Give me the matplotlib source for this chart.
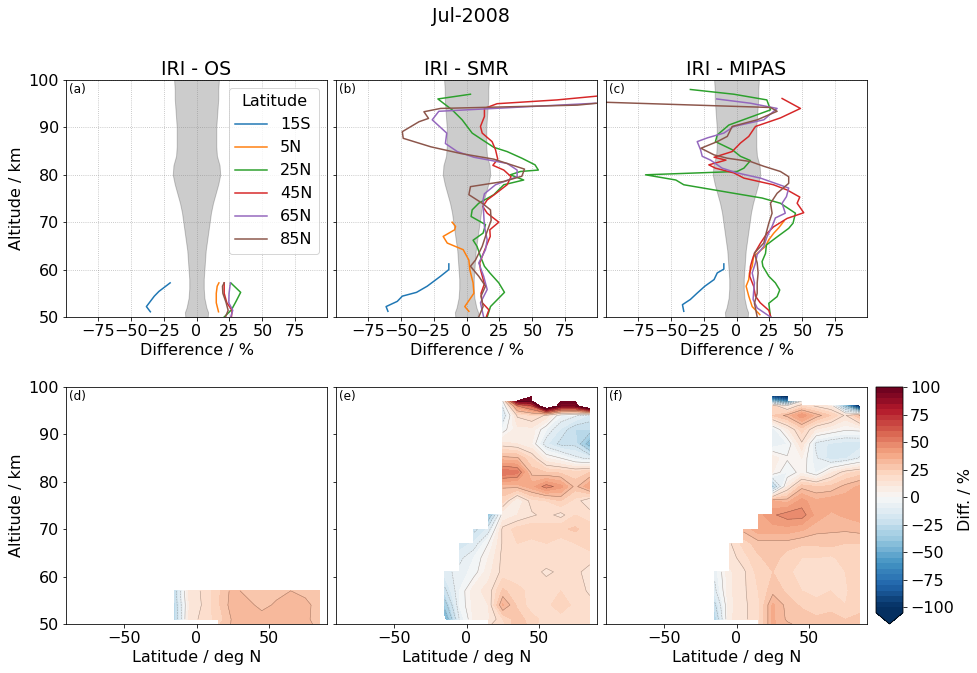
import matplotlib
matplotlib.use("Agg")
import matplotlib.pyplot as plt
import numpy as np

nan = np.nan

latitudes = ["15S", "5N", "25N", "45N", "65N", "85N"]
panel_titles = ["IRI - OS", "IRI - SMR", "IRI - MIPAS"]
panel_tags = ["(a)", "(b)", "(c)", "(d)", "(e)", "(f)"]

# grey band, half width in %
band_alt = [50, 51, 52, 54, 56, 58, 60, 62, 64, 66, 68, 70, 72, 74, 76, 78, 80, 82, 84, 86, 88, 90, 92, 94, 96, 98, 100]
band_half = [8.5, 8.8, 7.5, 6, 5.5, 5.5, 6, 6.5, 7, 8, 9, 10, 11, 12.5, 14.5, 16.5, 18, 17.5, 15.5, 15, 15, 15, 15.5, 16, 16.5, 16.5, 17]

# panel a
a_15s_alt = [51.1, 52.2, 54.4, 55.4, 57.2]
a_15s = [-35, -38, -32, -28.5, -20]
a_5n_alt = [51.1, 53, 55, 56.5, 57.2]
a_5n = [16.7, 15, 15, 15.7, 17]
a_25n_alt = [50, 51.5, 53.3, 55.2, 57.2]
a_25n = [21, 26.5, 30, 33.5, 26]
a_45n_alt = [50, 51.4, 53, 55, 57.2]
a_45n = [26.5, 27, 23, 21, 21]
a_65n_alt = [50, 51.4, 53, 55, 57.2]
a_65n = [26, 27.5, 24.5, 24.7, 25.7]
a_85n_alt = [50, 51.4, 53, 55, 56.5, 57.2]
a_85n = [22, 24, 22.5, 20, 19.7, 21]

# panel b
b_15s_alt = [51.2, 52.2, 53.3, 54.4, 55.2, 56.5, 58.6, 60, 61.2]
b_15s = [-59.6, -61, -52.5, -48.7, -37.9, -29.8, -19.7, -13.4, -13.4]
b_5n_alt = [51.2, 52.2, 55, 57.2, 60, 62, 64.2, 65.6, 67, 68.4, 69.1, 70]
b_5n = [1.8, -1.3, 5.6, 5, 2.5, 1.8, -2.5, -14.6, -17.7, -9, -8.3, -10.9]
b_25n_alt = [50, 52.2, 55.2, 57.2, 59.3, 60.7, 62.8, 64.9, 66.2, 67.7, 69.5, 71.2, 72.6, 74, 75.8, 77.9, 78.9, 80, 80.7,
             81, 82.1, 83.5, 84.9, 85.8, 87.4, 88.8, 91.6, 93.7, 96, 97]
b_25n = [15.7, 18.2, 28.8, 24.5, 17.7, 13.6, 10.6, 8, 5, 12.6, 14.4, 3.5, 4.3, 9.3, 20.7, 28.3, 43.4, 33.3, 40.9,
         54.5, 52, 42, 30.8, 20.7, 11.9, 4.3, -3.3, -10.9, -21.7, 3]
b_45n_alt = [50, 51.5, 53, 55, 57, 60, 61.4, 64.2, 67, 68.4, 70, 71.9, 73.3, 74.7, 76, 77.9, 79.6, 81, 82, 83.3, 85.3,
             87, 88.8, 90.2, 92.3, 94, 95, 95.8, 96.6]
b_45n = [15, 17, 12, 11, 13.6, 10.6, 10, 13.9, 18, 17.7, 24.5, 15.7, 12.4, 15.7, 22, 30.8, 33.8, 28.3, 20, 23.7, 22,
         19.4, 11.9, 10.6, 13.6, 13.6, 23.2, 68.7, 99]
b_65n_alt = [50, 53, 55.8, 58.6, 61.4, 64.2, 66.3, 69.1, 71.9, 74.7, 76, 77.9, 79.6, 81, 82.4, 83.7, 84.9, 86.6, 88.8,
             91.6, 93.4, 95.1]
b_65n = [13, 10.6, 15.7, 13, 9.3, 14.4, 15.7, 13.6, 13, 12.6, 13.6, 22, 38.4, 38.4, 30.8, 5.6, -7, -16, -15,
         -26, -21, 98]
b_85n_alt = [50, 52.2, 54.4, 56.5, 58.6, 60.7, 62, 64.9, 67.7, 70.4, 72.6, 74, 75.8, 77.5, 78.6, 79.7, 81.2, 83.3, 84.5,
             85.9, 87.7, 89.1, 91.2, 91.9, 93.3, 94, 94.7, 95.1]
b_85n = [9.3, 12.6, 11, 14.4, 9.3, 3, 6.8, 11.9, 15.2, 18.7, 18.2, 11.9, 1.8, 3, 28.3, 42, 44, 20.7, -4.5,
         -27, -48, -48.7, -36, -28.8, -32.3, -19.7, 84, 99]

# panel c
c_15s_alt = [51.2, 52.6, 53.7, 55, 56.5, 57.9, 59.3, 60.1, 61.2]
c_15s = [-40, -41, -35, -30, -24, -17, -14.6, -9.6, -9.6]
c_5n_alt = [50.5, 52.2, 54.4, 56.5, 57.9, 59.3, 60.7, 62.8, 64.9, 66.3, 67.7, 68.8, 70.2]
c_5n = [17.7, 11.9, 9.3, 7.3, 9.3, 9.8, 11.9, 13, 22, 24.5, 28.3, 32, 35.9]
c_25n_alt = [50, 52.9, 54.3, 55.7, 57.2, 58.6, 60.7, 61.7, 63.4, 65.2, 66.9, 68.7, 69.8, 71.9, 74, 75.1, 76.1, 77.9,
             78.9, 80, 80.7, 81.4, 83, 83.9, 85.3, 87, 88.4, 90.5, 91.9, 93.7, 95.8, 97, 98]
c_25n = [25.8, 24.5, 30.8, 32.8, 29.5, 24.5, 20, 19.4, 22, 22.7, 30.8, 39.6, 42.9, 44.7, 33.3, 19.4, -2, -40,
         -46, -69, 0.5, 5.6, 10.6, 3, -3.3, -16, -14.6, -5.8, 8, 25.8, 23, -2, -35]
c_45n_alt = [50, 51.4, 53, 54.4, 56.5, 58.6, 60.7, 62, 63.4, 65.5, 67.6, 69, 70.8, 72, 74, 75.3, 76.8, 77.9, 79.3,
             80.4, 81.4, 82.1, 83.1, 83.7, 84.9, 86.7, 88.1, 90.2, 92, 94, 96.1]
c_45n = [26, 24.5, 18, 14.4, 13, 10, 10.6, 11.9, 13.6, 18, 23, 28, 38.4, 51, 46, 48, 38.4, 28, 5.6,
         -2, -16, -21, -8, -17, -3.3, 3, 9.3, 14.4, 33.3, 48.5, 34.6]
c_65n_alt = [50, 51.9, 53.7, 55.4, 57.2, 59.3, 61.4, 63.2, 64.9, 67, 69.1, 70.9, 71.9, 74, 75.4, 77.2, 78.2, 79.3, 80.4,
             81.4, 83.1, 83.9, 85.3, 87, 87.8, 88.8, 90.2, 91.6, 94, 95.1, 96]
c_65n = [25.8, 15.7, 12.6, 13, 13.6, 11.9, 14.4, 15.7, 20.7, 23.2, 27, 29.5, 37, 34.6, 37.9, 39.6, 29.5, 18.2, 0.5,
         -10.9, -19.7, -26, -27.3, -29.8, -22, -9.6, -2, 20.7, 30.8, 10.6, -15]
c_85n_alt = [50, 52.9, 55, 57.2, 59.3, 61.4, 63.5, 65.6, 67.7, 69.8, 71.9, 74, 76.1, 78.2, 79.6, 80.7, 81.8, 82.8, 83.5,
             84.2, 85.6, 87, 88.1, 90.2, 91.6, 93.4, 94.2, 95.3]
c_85n = [15.7, 13.6, 15.7, 15.7, 16.4, 15.7, 13.6, 20.7, 22.5, 24.5, 27, 25.8, 30.8, 39.6, 39.6, 33.3, 20.7, 10.6, -7,
         -17, -27, -14.6, -7, -3.3, 15.7, 30.8, 25.8, -99]

# lat/alt fields
grid_lat = [-15, -5, 5, 15, 25, 35, 45, 55, 65, 75, 85]
os_alt = [50, 51, 54, 57]
os_diff = [
    [nan, nan, nan, 24, 31, 34, 33, 32, 33, 32, 28],
    [-28, 12, 17, 22, 31, 34, 33, 32, 33, 31, 28],
    [-26, 10, 16, 24, 33, 32, 28, 31, 32, 32, 27],
    [-24, 12, 16, 24, 32, 28, 28, 28, 30, 28, 27],
]
grid_alt = [50, 51, 54, 57, 61, 64, 67, 70, 73, 76, 79, 82, 85, 88, 91, 94, 96, 97, 98]
smr_diff = [
    [nan, nan, nan, 14, 18, 30, 22, 17, 17, 18, 20],
    [-50, -10, 6, 9, 20, 28, 22, 18, 17, 17, 20],
    [-35, -5, 7, 10, 36, 24, 17, 18, 24, 18, 17],
    [-22, -5, 8, 12, 26, 22, 18, 18, 20, 18, 14],
    [-12, -8, -3, 8, 17, 16, 17, 14, 16, 17, 12],
    [nan, -12, -5, 5, 17, 19, 16, 18, 17, 18, 18],
    [nan, -18, -14, 0, 16, 20, 18, 20, 17, 20, 22],
    [nan, nan, -22, -14, 17, 22, 24, 22, 24, 26, 22],
    [nan, nan, nan, -40, 5, 10, 14, 17, 13, 20, 18],
    [nan, nan, nan, nan, 22, 5, 18, 20, 25, 18, 10],
    [nan, nan, nan, nan, 31, 32, 38, 48, 42, 28, 40],
    [nan, nan, nan, nan, 55, 52, 28, 25, 24, 22, 25],
    [nan, nan, nan, nan, 32, 31, 20, 5, 0, -8, -12],
    [nan, nan, nan, nan, 12, 10, 5, -14, -22, -22, -45],
    [nan, nan, nan, nan, -3, 8, 8, -5, -16, -25, -25],
    [nan, nan, nan, nan, -16, 16, 20, 14, -5, -9, -16],
    [nan, nan, nan, nan, -9, 45, 60, 130, 90, 90, 140],
    [nan, nan, nan, nan, 0, 92, 95, 200, 99, 99, 200],
    [nan, nan, nan, nan, nan, 300, 99.5, nan, nan, nan, nan],
]
mipas_diff = [
    [nan, nan, nan, 18, 36, 31, 28, 26, 26, 25, 27],
    [-30, 9, 14, 18, 36, 29, 28, 26, 26, 25, 27],
    [-22, 8, 14, 18, 36, 28, 24, 22, 24, 20, 22],
    [-12, 9, 14, 20, 28, 24, 20, 18, 20, 19, 24],
    [-8, 9, 14, 22, 25, 21, 18, 17, 17, 20, 24],
    [nan, 12, 18, 24, 28, 22, 20, 20, 19, 22, 22],
    [nan, 14, 22, 28, 28, 28, 26, 26, 27, 25, 25],
    [nan, nan, 32, 38, 38, 38, 36, 32, 31, 31, 32],
    [nan, nan, nan, 38, 44, 48, 48, 38, 34, 36, 38],
    [nan, nan, nan, nan, 35, 33, 42, 36, 38, 38, 40],
    [nan, nan, nan, nan, -31, 9, 28, 25, 26, 32, 36],
    [nan, nan, nan, nan, 5, -5, 3, -6, 9, 18, 22],
    [nan, nan, nan, nan, 8, 1, 5, -9, -18, -16, -9],
    [nan, nan, nan, nan, -9, -5, 14, -12, -16, -18, -18],
    [nan, nan, nan, nan, -8, 8, 22, 9, 5, 1, 2],
    [nan, nan, nan, nan, 25, 32, 44, 33, 25, 14, 31],
    [nan, nan, nan, nan, 20, 5, 20, 14, 9, -40, -110],
    [nan, nan, nan, nan, -40, -60, 1, nan, nan, nan, nan],
    [nan, nan, nan, nan, -90, -110, nan, nan, nan, nan, nan],
]

W, H = 977.0, 673.0


def box(x0, y0, x1, y1):
    # pixel box, y from the top of the image
    return [x0 / W, 1 - y1 / H, (x1 - x0) / W, (y1 - y0) / H]


fig = plt.figure(figsize=(W / 72, H / 72), dpi=72)
plt.rcParams['font.size'] = 16

lefts = [66, 336, 606]
profiles = [
    [(a_15s_alt, a_15s), (a_5n_alt, a_5n), (a_25n_alt, a_25n), (a_45n_alt, a_45n), (a_65n_alt, a_65n), (a_85n_alt, a_85n)],
    [(b_15s_alt, b_15s), (b_5n_alt, b_5n), (b_25n_alt, b_25n), (b_45n_alt, b_45n), (b_65n_alt, b_65n), (b_85n_alt, b_85n)],
    [(c_15s_alt, c_15s), (c_5n_alt, c_5n), (c_25n_alt, c_25n), (c_45n_alt, c_45n), (c_65n_alt, c_65n), (c_85n_alt, c_85n)],
]
fields = [(os_alt, os_diff), (grid_alt, smr_diff), (grid_alt, mipas_diff)]

levels = np.arange(-105, 101, 5)
line_levels = [-90, -80, -70, -60, -50, -40, -30, -20, -10, 0, 15, 30, 45, 60, 75, 90]

for i in range(3):
    ax = fig.add_axes(box(lefts[i], 80, lefts[i] + 261, 317))
    half = np.array(band_half)
    ax.fill_betweenx(band_alt, -half, half, color='k', alpha=0.2)
    for j, (alt, diff) in enumerate(profiles[i]):
        ax.plot(diff, alt, color='C%d' % j, label=latitudes[j])
    ax.set_xlim(-99, 99)
    ax.set_ylim(50, 100)
    ax.set_xticks(np.arange(-75, 76, 25))
    ax.set_yticks(np.arange(50, 101, 10))
    ax.grid(True, ls=':', color='grey', lw=0.8, alpha=0.6)
    ax.tick_params(labelsize=16)
    ax.set_xlabel('Difference / %', fontsize=16)
    ax.set_title(panel_titles[i], fontsize=19, pad=5)
    ax.text(0.01, 0.96, panel_tags[i], transform=ax.transAxes, fontsize=12, va='center')
    if i == 0:
        ax.set_ylabel('Altitude / km', fontsize=16)
        ax.legend(title='Latitude', fontsize=16, title_fontsize=16, loc='upper right')
    else:
        ax.set_yticklabels([])

    ax = fig.add_axes(box(lefts[i], 387, lefts[i] + 261, 624))
    alt, diff = fields[i]
    diff = np.array(diff, dtype=float)
    cs = ax.contourf(grid_lat, alt, diff, levels=levels, cmap='RdBu_r', vmin=-100, vmax=100,
                     extend='min', corner_mask=False)
    ax.contour(grid_lat, alt, diff, levels=line_levels, colors='k', linewidths=0.5, alpha=0.35,
               corner_mask=False)
    ax.set_xlim(-90, 90)
    ax.set_ylim(50, 100)
    ax.set_xticks([-50, 0, 50])
    ax.set_yticks(np.arange(50, 101, 10))
    ax.tick_params(labelsize=16)
    ax.set_xlabel('Latitude / deg N', fontsize=16)
    ax.text(0.01, 0.96, panel_tags[i + 3], transform=ax.transAxes, fontsize=12, va='center')
    if i == 0:
        ax.set_ylabel('Altitude / km', fontsize=16)
    else:
        ax.set_yticklabels([])

cax = fig.add_axes(box(876, 387, 903, 624))
cbar = fig.colorbar(cs, cax=cax, ticks=np.arange(-100, 101, 25))
cbar.ax.tick_params(labelsize=16)
cbar.set_label('Diff. / %', fontsize=16)

fig.text(470.5 / W, 1 - 16 / H, 'Jul-2008', fontsize=19, ha='center', va='center')

fig.savefig('out.png', dpi=72)
